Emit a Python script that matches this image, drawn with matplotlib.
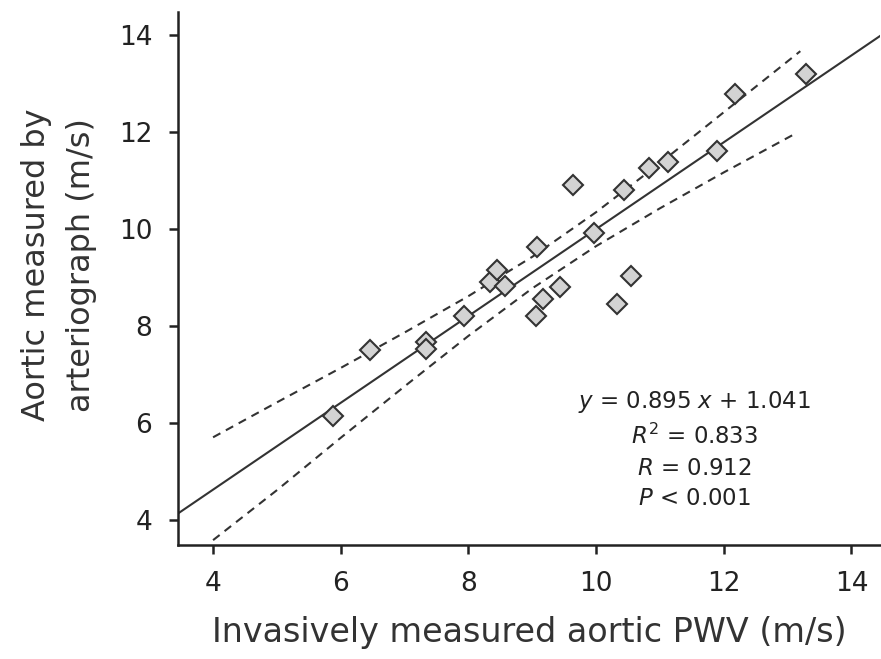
import numpy as np
import matplotlib.pyplot as plt

plt.rcParams['font.family'] = ['DejaVu Sans']
plt.rcParams['mathtext.fontset'] = 'dejavusans'

# measured values (m/s)
pwv_invasive = [5.88, 6.46, 7.34, 7.34, 7.93, 8.34, 8.45, 8.58, 9.06, 9.08, 9.17,
                9.44, 9.64, 9.96, 10.33, 10.43, 10.55, 10.83, 11.12, 11.90, 12.17, 13.29]
pwv_arterio = [6.14, 7.50, 7.67, 7.53, 8.21, 8.91, 9.15, 8.82, 8.21, 9.63, 8.56,
               8.80, 10.91, 9.92, 8.45, 10.80, 9.03, 11.26, 11.38, 11.61, 12.78, 13.18]

# regression y = slope*x + intercept
slope = 0.895
intercept = 1.041

# confidence band
band_x = [4.0, 5.0, 6.0, 7.0, 8.0, 9.0, 10.0, 11.0, 12.0, 13.2]
band_upper = [5.70, 6.42, 7.13, 7.86, 8.61, 9.42, 10.34, 11.35, 12.40, 13.66]
band_x_lo = [4.0, 5.0, 6.0, 7.0, 8.0, 9.0, 10.0, 11.0, 12.0, 13.15]
band_lower = [3.58, 4.61, 5.69, 6.75, 7.79, 8.77, 9.64, 10.42, 11.16, 11.98]

stats_text = ("$y$ = 0.895 $x$ + 1.041\n"
              "$R^2$ = 0.833\n"
              "$R$ = 0.912\n"
              "$P$ < 0.001")

fig = plt.figure(figsize=(8.81, 6.59), dpi=100)
ax = fig.add_axes([0.202, 0.173, 0.797, 0.809])

xlim = (3.45, 14.45)
xs = np.array(xlim)
ax.plot(xs, slope * xs + intercept, color='#333333', lw=1.5, zorder=2)
ax.plot(band_x, band_upper, color='#333333', lw=1.5, dashes=(4, 3), zorder=2)
ax.plot(band_x_lo, band_lower, color='#333333', lw=1.5, dashes=(4, 3), zorder=2)

ax.plot(pwv_invasive, pwv_arterio, 'D', ms=10, mfc='#d3d3d3', mec='#333333',
        mew=1.5, ls='none', zorder=3)

ax.text(0.736, 0.292, stats_text, transform=ax.transAxes, ha='center', va='top',
        fontsize=16.5, linespacing=1.42, color='#222222')

ax.set_xlim(*xlim)
ax.set_ylim(3.48, 14.47)
ax.set_xticks([4, 6, 8, 10, 12, 14])
ax.set_yticks([4, 6, 8, 10, 12, 14])

for s in ['top', 'right']:
    ax.spines[s].set_visible(False)
for s in ['left', 'bottom']:
    ax.spines[s].set_linewidth(1.8)
    ax.spines[s].set_color('#222222')
ax.tick_params(width=1.8, length=6.5, labelsize=19, colors='#222222', pad=12)

ax.set_xlabel('Invasively measured aortic PWV (m/s)', fontsize=24, color='#333333', labelpad=14)
ax.set_ylabel('Aortic measured by\narteriograph (m/s)', fontsize=23, color='#333333',
              linespacing=1.6)
ax.yaxis.set_label_coords(-0.115, 0.525)

fig.savefig('out.png', dpi=100)
